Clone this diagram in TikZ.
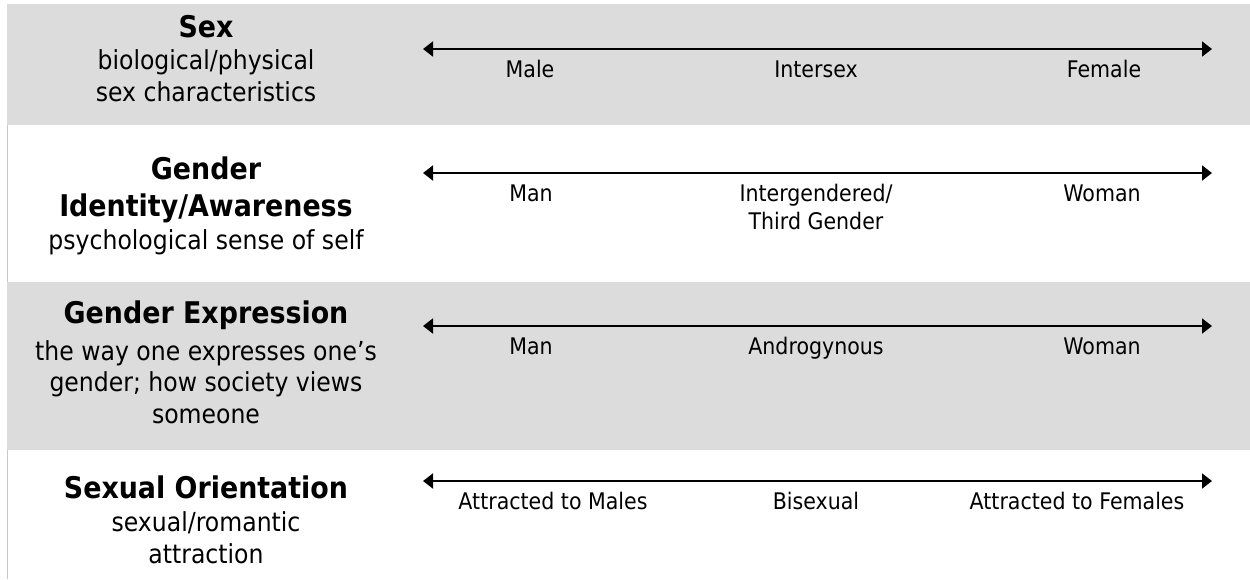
\documentclass[tikz,border=0pt]{standalone}
\usepackage{fontspec}
\setmainfont{DejaVu Sans}[FakeStretch=0.9]
\usetikzlibrary{arrows.meta}
\definecolor{bandgray}{HTML}{DCDCDC}
\definecolor{edgegray}{HTML}{C8C8C8}
\tikzset{
  band/.style={fill=bandgray},
  scalearrow/.style={{Triangle[length=5.7pt,width=8.5pt]}-{Triangle[length=5.7pt,width=8.5pt]}, line width=1.2pt},
  title/.style={anchor=base, inner sep=0pt, align=center, font=\fontsize{17}{21}\selectfont\bfseries},
  desc/.style={anchor=base, inner sep=0pt, align=center, font=\fontsize{14.9}{17.7}\selectfont},
  pole/.style={anchor=base, inner sep=0pt, align=center, font=\fontsize{13}{15.9}\selectfont},
}
\begin{document}
\begin{tikzpicture}[x=0.02cm, y=0.02cm]
    \useasboundingbox (0,0) rectangle (1250,-579);
    \fill [white] (0,0) rectangle (1250,-579);
    % grey bands
    \fill [band] (7,-4) rectangle (1250,-125);
    \fill [band] (7,-282) rectangle (1250,-450);
    \draw [edgegray, line width=0.4pt] (7,-125) -- (7,-282);
    \draw [edgegray, line width=0.4pt] (7,-450) -- (7,-579);
    % left column (base = last line)
    \node [title] (sexT) at (206,-37) {Sex};
    \node [desc] (sexD) at (206,-101) {biological/physical\\sex characteristics};
    \node [title] (idT) at (206,-216) {Gender\\Identity/Awareness};
    \node [desc] (idD) at (206,-249) {psychological sense of self};
    \node [title] (expT) at (206,-323) {Gender Expression};
    \node [desc] (expD) at (206,-423) {the way one expresses one’s\\gender; how society views\\someone};
    \node [title] (oriT) at (206,-498) {Sexual Orientation};
    \node [desc] (oriD) at (206,-563) {sexual/romantic\\attraction};
    % scales
    \coordinate (sexL) at (423,-49);
    \coordinate (sexR) at (1212,-49);
    \draw [scalearrow] (sexL) -- (sexR);
    \node [pole] (male) at (530,-77) {Male};
    \node [pole] (intersex) at (816,-77) {Intersex};
    \node [pole] (female) at (1104,-77) {Female};
    \coordinate (idL) at (423,-173);
    \coordinate (idR) at (1212,-173);
    \draw [scalearrow] (idL) -- (idR);
    \node [pole] (idman) at (531,-201) {Man};
    \node [pole] (intergender) at (816,-229) {Intergendered/\\Third Gender};
    \node [pole] (idwoman) at (1102,-201) {Woman};
    \coordinate (expL) at (423,-326);
    \coordinate (expR) at (1212,-326);
    \draw [scalearrow] (expL) -- (expR);
    \node [pole] (expman) at (531,-354) {Man};
    \node [pole] (androgynous) at (816,-354) {Androgynous};
    \node [pole] (expwoman) at (1102,-354) {Woman};
    \coordinate (oriL) at (423,-481);
    \coordinate (oriR) at (1212,-481);
    \draw [scalearrow] (oriL) -- (oriR);
    \node [pole] (males) at (553,-509) {Attracted to Males};
    \node [pole] (bisexual) at (816,-509) {Bisexual};
    \node [pole] (females) at (1077,-509) {Attracted to Females};
\end{tikzpicture}
\end{document}
